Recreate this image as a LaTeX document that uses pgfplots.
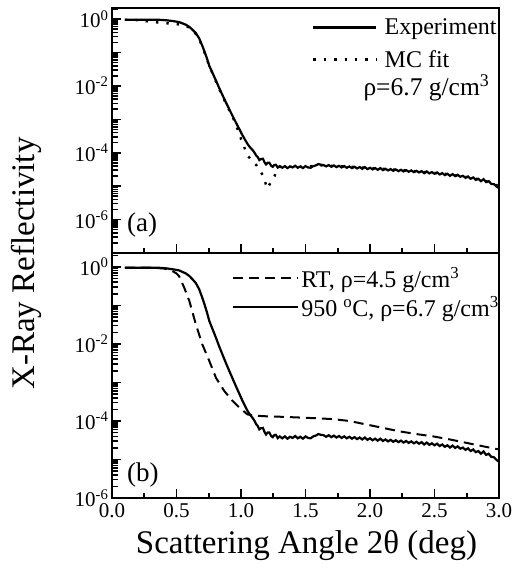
\documentclass[border=0pt]{standalone}
\usepackage{fontspec}
\setmainfont{Liberation Serif}
\usepackage{pgfplots}
\pgfplotsset{compat=1.18}
\usepackage{pgfplotstable}

% measured reflectivity (same scan in both panels)
\pgfplotstableread{
x y
0.10 0.955
0.20 0.955
0.30 0.955
0.365 0.950
0.42 0.920
0.47 0.871
0.52 0.813
0.573 0.676
0.60 0.580
0.624 0.479
0.65 0.380
0.676 0.263
0.70 0.158
0.715 0.112
0.735 0.068
0.754 0.0398
0.78 0.0240
0.806 0.01445
0.83 0.0088
0.857 5.25e-3
0.883 3.2e-3
0.909 2.00e-3
0.935 1.26e-3
0.961 7.94e-4
0.987 5.1e-4
1.012 3.31e-4
1.03 2.5e-4
1.051 1.82e-4
1.07 1.45e-4
1.09 1.20e-4
1.105 1.0e-4
1.117 8.32e-5
1.13 7.4e-5
1.142 6.03e-5
1.155 6.5e-5
1.17 6.61e-5
1.182 5.2e-5
1.194 4.47e-5
1.207 5.0e-5
1.22 5.01e-5
1.233 4.1e-5
1.246 3.80e-5
1.258 4.3e-5
1.27 4.37e-5
1.285 3.6e-5
1.30 3.98e-5
1.32 3.55e-5
1.34 3.98e-5
1.36 3.47e-5
1.38 3.89e-5
1.40 3.63e-5
1.42 4.07e-5
1.44 3.55e-5
1.46 3.89e-5
1.48 3.47e-5
1.50 3.98e-5
1.52 3.63e-5
1.54 3.55e-5
1.56 3.98e-5
1.58 4.17e-5
1.60 4.57e-5
1.62 4.37e-5
1.64 4.27e-5
1.66 3.89e-5
1.68 4.27e-5
1.70 3.80e-5
1.72 4.17e-5
1.74 3.72e-5
1.76 4.07e-5
1.78 3.63e-5
1.80 3.98e-5
1.82 3.55e-5
1.84 3.89e-5
1.86 3.47e-5
1.88 3.80e-5
1.90 3.39e-5
1.92 3.72e-5
1.94 3.31e-5
1.96 3.72e-5
1.98 3.24e-5
2.00 3.55e-5
2.02 3.16e-5
2.04 3.47e-5
2.06 3.09e-5
2.08 3.47e-5
2.10 3.02e-5
2.12 3.31e-5
2.14 2.95e-5
2.16 3.24e-5
2.18 2.88e-5
2.20 3.16e-5
2.22 2.82e-5
2.24 3.09e-5
2.26 2.75e-5
2.28 3.02e-5
2.30 2.69e-5
2.32 2.95e-5
2.34 2.63e-5
2.36 2.88e-5
2.38 2.57e-5
2.40 2.82e-5
2.42 2.45e-5
2.44 2.75e-5
2.46 2.40e-5
2.48 2.63e-5
2.50 2.34e-5
2.52 2.57e-5
2.54 2.24e-5
2.56 2.45e-5
2.58 2.14e-5
2.60 2.34e-5
2.62 2.04e-5
2.64 2.29e-5
2.66 2.00e-5
2.68 2.19e-5
2.70 1.91e-5
2.72 2.04e-5
2.74 1.78e-5
2.76 1.95e-5
2.78 1.66e-5
2.80 1.82e-5
2.82 1.55e-5
2.84 1.66e-5
2.86 1.41e-5
2.88 1.62e-5
2.90 1.32e-5
2.92 1.41e-5
2.94 1.17e-5
2.96 1.15e-5
2.98 9.8e-6
3.00 8.71e-6
}\expdata

% Monte Carlo fit, rho = 6.7 g/cm3
\pgfplotstableread{
x y
0.10 0.955
0.20 0.93
0.30 0.832
0.40 0.76
0.50 0.71
0.57 0.63
0.61 0.525
0.64 0.40
0.67 0.28
0.70 0.15
0.75 0.044
0.80 0.0151
0.85 5.5e-3
0.90 2.2e-3
0.95 8.9e-4
1.00 2.6e-4
1.05 8.3e-5
1.09 5.5e-5
1.12 4.2e-5
1.15 2.8e-5
1.18 1.8e-5
1.20 8.5e-6
1.23 1.26e-5
1.26 2.0e-5
1.28 3.2e-5
1.30 3.8e-5
1.50 3.8e-5
1.60 4.2e-5
1.80 3.9e-5
2.00 3.5e-5
2.20 3.1e-5
2.40 2.7e-5
2.60 2.3e-5
2.80 1.75e-5
2.90 1.4e-5
3.00 1.0e-5
}\mcdata

% room temperature film, rho = 4.5 g/cm3
\pgfplotstableread{
x y
0.10 0.955
0.30 0.955
0.40 0.912
0.46 0.813
0.50 0.676
0.52 0.575
0.56 0.288
0.60 0.129
0.65 0.0324
0.70 9.77e-3
0.754 3.63e-3
0.806 1.32e-3
0.87 6.03e-4
0.935 3.31e-4
0.987 2.24e-4
1.05 1.48e-4
1.10 1.38e-4
1.20 1.32e-4
1.30 1.29e-4
1.45 1.23e-4
1.60 1.17e-4
1.71 1.12e-4
1.84 1.00e-4
1.97 8.13e-5
2.10 6.61e-5
2.23 5.37e-5
2.36 4.57e-5
2.49 3.98e-5
2.62 3.31e-5
2.75 2.69e-5
2.88 2.19e-5
3.00 1.82e-5
}\rtdata

\newcommand\tickfont{\fontsize{21bp}{24bp}\selectfont}
\newcommand\legfont{\fontsize{24bp}{27bp}\selectfont}
\newcommand\labfont{\fontsize{33bp}{38bp}\selectfont}
\newcommand\sps[1]{\textsuperscript{#1}}

\pgfplotsset{
  refl/.style={
    scale only axis, width=387bp, height=245bp,
    xmin=0, xmax=3, axis on top,
    axis line style={line width=1.4bp},
    tick style={draw=black, line width=1.6bp, solid},
    major tick length=9bp, minor tick length=5.5bp,
    tick align=inside, xtick pos=bottom, ytick pos=left,
    xtick={0,0.5,1,1.5,2,2.5,3}, minor xtick={0.25,0.75,1.25,1.75,2.25,2.75},
    tick label style={font=\tickfont},
    xticklabel style={yshift=-2bp},
  },
  expline/.style={black, line width=2.2bp},
}

\begin{document}
\begin{tikzpicture}
% (a) annealed film with fit
\begin{axis}[refl, ymode=log, at={(0,245bp)}, ymin=1e-7, ymax=2.14,
  ytick={1e-7,1e-6,1e-5,1e-4,1e-3,1e-2,1e-1,1},
  yticklabels={,10\sps{-6},,10\sps{-4},,10\sps{-2},,10\sps{0}},
  minor ytick={2e-7,3e-7,4e-7,5e-7,6e-7,7e-7,8e-7,9e-7,2e-6,3e-6,4e-6,5e-6,6e-6,7e-6,8e-6,9e-6,2e-5,3e-5,4e-5,5e-5,6e-5,7e-5,8e-5,9e-5,2e-4,3e-4,4e-4,5e-4,6e-4,7e-4,8e-4,9e-4,2e-3,3e-3,4e-3,5e-3,6e-3,7e-3,8e-3,9e-3,2e-2,3e-2,4e-2,5e-2,6e-2,7e-2,8e-2,9e-2,0.2,0.3,0.4,0.5,0.6,0.7,0.8,0.9,2},
  xticklabel=\empty,
  legend image code/.code={\draw[#1] (0bp,0bp) -- (63bp,0bp);},
  legend style={draw=none, fill=none, inner sep=0pt, font=\legfont,
    at={(rel axis cs:0.517,0.965)}, anchor=north west, row sep=10bp,
    /tikz/every odd column/.append style={column sep=5bp}},
  legend cell align=left]
\addplot[expline] table[x=x, y=y] {\expdata};
\addlegendentry{Experiment}
\addplot[black, line width=2.4bp, dash pattern=on 2.4bp off 8bp] table[x=x, y=y] {\mcdata};
\addlegendentry{MC fit}
\node[font=\fontsize{25.5bp}{28bp}\selectfont, anchor=base east] at (rel axis cs:0.984,0.642) {ρ=6.7 g/cm\sps{3}};
\node[font=\fontsize{27bp}{30bp}\selectfont, anchor=base west] at (rel axis cs:0.03,0.086) {(a)};
\end{axis}
% (b) RT vs 950 C
\begin{axis}[refl, ymode=log, at={(0,0)}, ymin=1e-6, ymax=2.3,
  ytick={1e-6,1e-5,1e-4,1e-3,1e-2,1e-1,1},
  yticklabels={10\sps{-6},,10\sps{-4},,10\sps{-2},,10\sps{0}},
  minor ytick={2e-6,3e-6,4e-6,5e-6,6e-6,7e-6,8e-6,9e-6,2e-5,3e-5,4e-5,5e-5,6e-5,7e-5,8e-5,9e-5,2e-4,3e-4,4e-4,5e-4,6e-4,7e-4,8e-4,9e-4,2e-3,3e-3,4e-3,5e-3,6e-3,7e-3,8e-3,9e-3,2e-2,3e-2,4e-2,5e-2,6e-2,7e-2,8e-2,9e-2,0.2,0.3,0.4,0.5,0.6,0.7,0.8,0.9,2},
  xticklabels={0.0,0.5,1.0,1.5,2.0,2.5,3.0},
  legend image code/.code={\draw[#1] (0bp,0bp) -- (65bp,0bp);},
  legend style={draw=none, fill=none, inner sep=0pt, font=\legfont,
    at={(rel axis cs:0.31,0.95)}, anchor=north west, row sep=3bp},
  legend cell align=left]
\addplot[black, line width=2bp, dash pattern=on 10bp off 6bp] table[x=x, y=y] {\rtdata};
\addlegendentry{RT, ρ=4.5 g/cm\sps{3}}
\addplot[expline] table[x=x, y=y] {\expdata};
\addlegendentry{950 \sps{o}C, ρ=6.7 g/cm\sps{3}}
\node[font=\fontsize{27bp}{30bp}\selectfont, anchor=base west] at (rel axis cs:0.03,0.069) {(b)};
\end{axis}
\node[font=\labfont, rotate=90] at (-86bp,234.5bp) {X-Ray Reflectivity};
\node[font=\labfont, anchor=base] at (194.5bp,-55bp) {Scattering Angle 2θ (deg)};
\pgfresetboundingbox
\path[use as bounding box] (-112bp,-76bp) rectangle (415bp,498bp);
\end{tikzpicture}
\end{document}
